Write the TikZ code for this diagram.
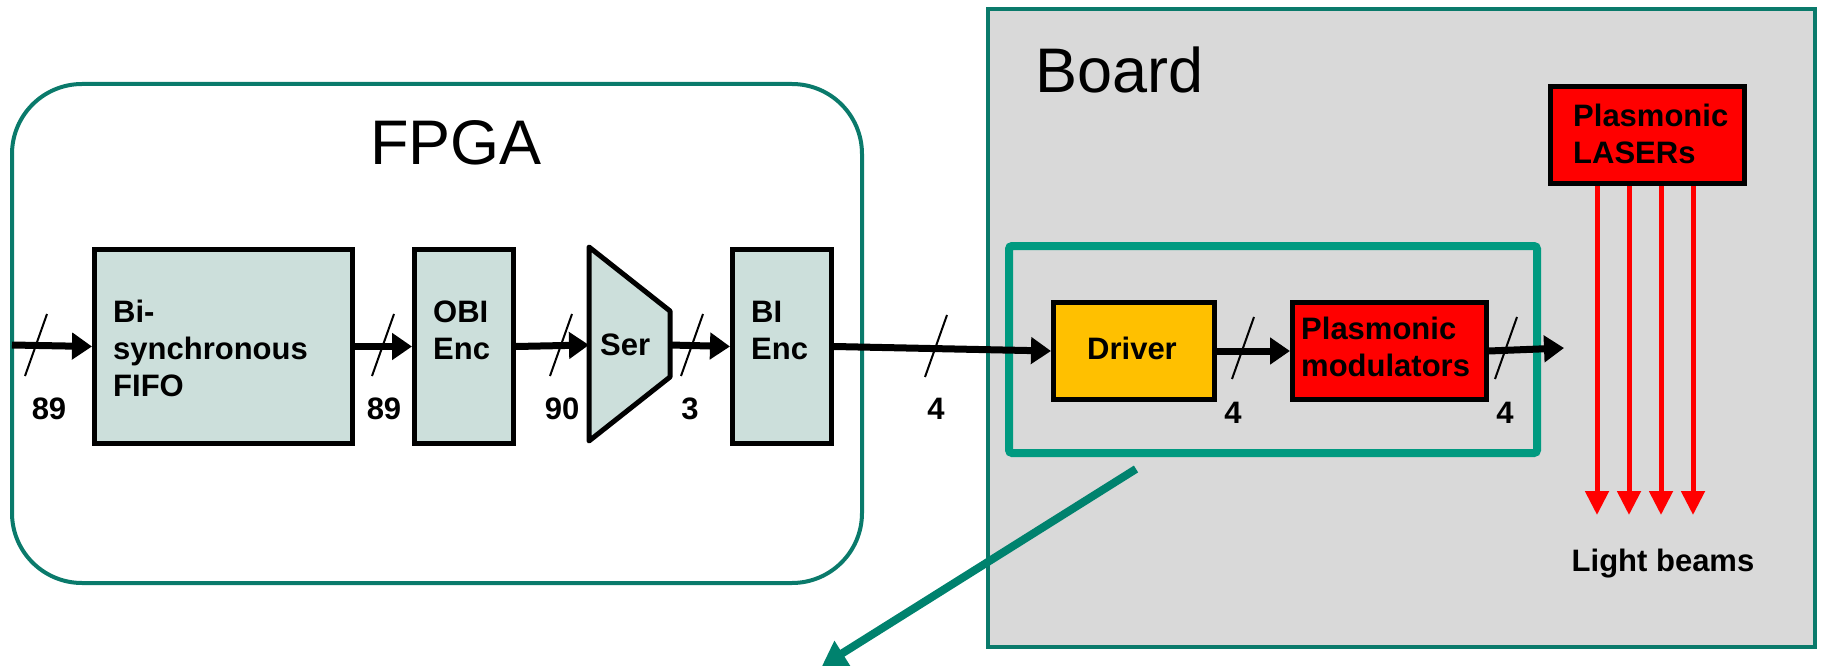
\documentclass[tikz,border=0pt]{standalone}
\usepackage{fontspec}
\setmainfont{Liberation Sans}
\usetikzlibrary{arrows.meta}
\definecolor{blkfill}{HTML}{CCDFDB}
\definecolor{boardfill}{HTML}{D9D9D9}
\definecolor{tealdark}{HTML}{0A7A6B}
\definecolor{tealbright}{HTML}{009A80}
\definecolor{tealarrow}{HTML}{00826E}
\definecolor{drvfill}{HTML}{FFC000}
\definecolor{redfill}{HTML}{FF0000}
\tikzset{
  blk/.style={draw=black, line width=5pt, fill=blkfill, inner sep=0pt, anchor=north west},
  lbl/.style={font=\fontsize{31}{37}\selectfont\bfseries, align=left, inner sep=0pt},
  num/.style={font=\fontsize{31}{37}\selectfont\bfseries, inner sep=0pt},
  title/.style={font=\fontsize{63}{70}\selectfont, inner sep=0pt},
  wire/.style={line width=7pt, -{Triangle[length=20pt,width=26pt]}},
  slashline/.style={line width=2pt},
  beam/.style={draw=redfill, line width=5pt, -{Triangle[length=24pt,width=23pt]}, color=redfill},
}
\begin{document}
\begin{tikzpicture}[x=1pt,y=-1pt]
\useasboundingbox (0,0) rectangle (1821,666);
% containers
\draw[draw=tealdark, line width=4pt, fill=boardfill] (988,9) rectangle (1815,647);
\draw[draw=tealdark, line width=4pt, fill=white, rounded corners=70pt] (12,84) rectangle (862,583);
\draw[draw=tealbright, line width=8pt, rounded corners=3pt] (1009,246) rectangle (1537,453);
\node[title] (fpgat) at (456,143) {FPGA};
\node[title, anchor=west] (boardt) at (1035,70) {Board};
% blocks
\node[blk, minimum width=258pt, minimum height=194pt] (fifo) at (92,247) {};
\node[blk, minimum width=99pt, minimum height=194pt] (obi) at (412,247) {};
\node[blk, minimum width=99pt, minimum height=194pt] (bi) at (730,247) {};
\draw[draw=black, line width=5pt, fill=blkfill, line join=round] (589,247) -- (670,311) -- (670,377) -- (589,441) -- cycle;
\coordinate (serin) at (589,345);
\coordinate (serout) at (670,345);
\node[blk, fill=drvfill, minimum width=161pt, minimum height=97pt] (drv) at (1051,300) {};
\node[blk, fill=redfill, minimum width=194pt, minimum height=97pt] (mod) at (1290,300) {};
\node[blk, fill=redfill, minimum width=194pt, minimum height=97pt] (laser) at (1548,84) {};
% labels
\node[lbl, anchor=west] (fifol) at (113,348) {Bi-\\synchronous\\FIFO};
\node[lbl, anchor=west] (obil) at (433,330) {OBI\\Enc};
\node[lbl, anchor=west] (bil) at (751,330) {BI\\Enc};
\node[lbl, anchor=west] (serl) at (600,345) {Ser};
\node[lbl] (drvl) at (1132,348) {Driver};
\node[lbl, anchor=west] (modl) at (1301,347) {Plasmonic\\modulators};
\node[lbl, anchor=west] (laserl) at (1573,134) {Plasmonic\\LASERs};
\node[lbl] (beamsl) at (1663,564) {Light beams};
% wires
\coordinate (in) at (12,345);
\coordinate (out) at (1564,348);
\draw[wire] (in) -- (fifo.west);
\draw[wire] (fifo.east) -- (obi.west);
\draw[wire] (obi.east) -- (serin);
\draw[wire] (serout) -- (bi.west);
\draw[wire] (bi.east) -- (drv.west);
\draw[wire] (drv.east) -- (mod.west);
\draw[wire] (mod.east) -- (out);
% bus slashes
\foreach \sx/\sy in {36/345, 383/345, 561/345, 692/345, 936/346, 1243/348, 1506/348}
  \draw[slashline] (\sx-11,\sy+31) -- (\sx+11,\sy-31);
% widths
\node[num] (n1) at (49,409) {89};
\node[num] (n2) at (384,409) {89};
\node[num] (n3) at (562,409) {90};
\node[num] (n4) at (690,409) {3};
\node[num] (n5) at (936,409) {4};
\node[num] (n6) at (1233,413) {4};
\node[num] (n7) at (1505,413) {4};
% light beams
\coordinate (b1) at (1597,515);
\coordinate (b2) at (1629,515);
\coordinate (b3) at (1661,515);
\coordinate (b4) at (1693,515);
\foreach \b in {b1,b2,b3,b4}
  \draw[beam] (\b |- laser.south) -- (\b);
% zoom arrow
\coordinate (zs) at (1136,469);
\coordinate (ze) at (822,666);
\draw[draw=tealarrow, line width=8pt, -{Triangle[length=24pt,width=28pt]}, color=tealarrow] (zs) -- (ze);
\end{tikzpicture}
\end{document}
